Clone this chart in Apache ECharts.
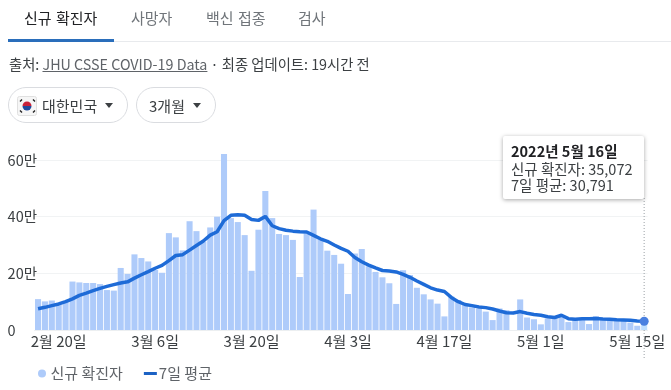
<!DOCTYPE html>
<html>
<head>
<meta charset="utf-8">
<script src="https://cdn.jsdelivr.net/npm/echarts@6/dist/echarts.min.js"></script>
<style>
  html, body { margin: 0; padding: 0; background: #fff; overflow: hidden; }
  body { width: 671px; height: 390px; position: relative; font-family: "Noto Sans CJK KR", sans-serif; color: #3c4043; }
  .abs { position: absolute; white-space: nowrap; line-height: 20px; }
  .tab { top: 8px; font-size: 15px; word-spacing: 1px; color: #70757a; }
  #rule { position: absolute; left: 8px; right: 0; top: 41px; height: 1px; background: #e8eaed; }
  #active { position: absolute; left: 8px; top: 39px; width: 106px; height: 3px; background: #2a6ebb; }
  .chip { position: absolute; top: 87px; height: 34px; border: 1px solid #dadce0; border-radius: 18px; }
  .caret { position: absolute; top: 103px; width: 0; height: 0; border-left: 4.5px solid transparent; border-right: 4.5px solid transparent; border-top: 5px solid #3c4043; }
  #chart { position: absolute; left: 0; top: 0; width: 671px; height: 390px; }
  a { color: #5f6368; text-decoration: underline; }
</style>
</head>
<body>
<div id="chart"></div>
<div class="abs tab" style="left:24px;color:#202124">신규 확진자</div>
<div class="abs tab" style="left:131px">사망자</div>
<div class="abs tab" style="left:206px">백신 접종</div>
<div class="abs tab" style="left:298px">검사</div>
<div id="rule"></div>
<div id="active"></div>
<div class="abs" style="left:9px;top:54px;font-size:14.3px">출처: <a>JHU CSSE COVID-19 Data</a> · 최종 업데이트: 19시간 전</div>
<div class="chip" style="left:8px;width:118px"></div>
<svg class="abs" style="left:17px;top:96px" width="20" height="20" viewBox="0 0 20 20">
  <rect x="0.5" y="0.5" width="19" height="19" rx="2" fill="#f6f6f6" stroke="#e0e0e0"/>
  <path d="M5.5 10a4.5 4.5 0 0 1 9 0z" fill="#c8213a"/>
  <path d="M5.5 10a4.5 4.5 0 0 0 9 0z" fill="#1f4a9c"/>
  <g stroke="#222" stroke-width="1.4">
    <path d="M3 5.5l2-2M16 3.5l2 2M3 14.5l2 2M16 16.5l2-2"/>
  </g>
</svg>
<div class="abs" style="left:42px;top:96px;font-size:15px">대한민국</div>
<div class="caret" style="left:105px"></div>
<div class="chip" style="left:136px;width:78px"></div>
<div class="abs" style="left:149px;top:96px;font-size:15px">3개월</div>
<div class="caret" style="left:193px"></div>
<script>
const categories = [
  '2월 17일','2월 18일','2월 19일','2월 20일','2월 21일','2월 22일','2월 23일','2월 24일','2월 25일','2월 26일','2월 27일','2월 28일',
  '3월 1일','3월 2일','3월 3일','3월 4일','3월 5일','3월 6일','3월 7일','3월 8일','3월 9일','3월 10일','3월 11일','3월 12일','3월 13일','3월 14일','3월 15일','3월 16일','3월 17일','3월 18일','3월 19일','3월 20일','3월 21일','3월 22일','3월 23일','3월 24일','3월 25일','3월 26일','3월 27일','3월 28일','3월 29일','3월 30일','3월 31일',
  '4월 1일','4월 2일','4월 3일','4월 4일','4월 5일','4월 6일','4월 7일','4월 8일','4월 9일','4월 10일','4월 11일','4월 12일','4월 13일','4월 14일','4월 15일','4월 16일','4월 17일','4월 18일','4월 19일','4월 20일','4월 21일','4월 22일','4월 23일','4월 24일','4월 25일','4월 26일','4월 27일','4월 28일','4월 29일','4월 30일',
  '5월 1일','5월 2일','5월 3일','5월 4일','5월 5일','5월 6일','5월 7일','5월 8일','5월 9일','5월 10일','5월 11일','5월 12일','5월 13일','5월 14일','5월 15일','5월 16일'
];
const newCases = [
  109000,101000,104000,95000,101000,171000,168000,166000,166000,162000,141000,139000,
  219000,198000,267000,254000,242000,212000,202000,342000,327000,281000,384000,349000,312000,362000,400000,621000,395000,381000,335000,209000,354000,491000,395000,339000,335000,318000,187000,341000,425000,324000,280000,
  265000,234000,127000,270000,286000,225000,205000,186000,165000,92000,211000,194000,149000,126000,108000,93000,48000,118000,106000,92000,80000,75000,65000,35000,76000,70000,null,108000,44000,38000,
  20000,41000,47000,53000,28000,35000,35000,21000,49000,38000,35000,35000,34000,26000,15000,35072
];
const weeklyAvg = [
  75000,80000,86000,92000,100000,110000,122000,130000,139000,147000,154000,160000,
  166000,170000,183000,195000,206000,218000,228000,245000,263000,266000,282000,298000,314000,335000,347000,386000,405000,407000,405000,390000,387000,401000,368000,358000,352000,349000,347000,346000,334000,322000,313000,
  300000,288000,278000,256000,241000,229000,219000,210000,208000,205000,196000,186000,173000,161000,149000,141000,136000,115000,100000,90000,86000,81000,79000,74000,67000,61000,60000,65000,59000,55000,
  52000,47000,44000,52000,40000,38000,40000,40000,41000,39000,38000,36000,35000,34000,32000,30791
];
const tipDate = '2022년 5월 16일';
const seriesNames = ['신규 확진자', '7일 평균'];

const chart = echarts.init(document.getElementById('chart'));
const last = categories.length - 1;

chart.setOption({
  animation: false,
  textStyle: { fontFamily: '"Noto Sans CJK KR", sans-serif' },
  grid: { left: 34.6, right: 23.4, top: 131.7, bottom: 60, outerBoundsMode: 'none' },
  legend: {
    left: 33, top: 361, itemGap: 21, itemWidth: 13, itemHeight: 8,
    textStyle: { color: '#5f6368', fontSize: 15, padding: [0, 0, 0, -3] },
    data: [
      { name: seriesNames[0], icon: 'circle' },
      { name: seriesNames[1], icon: 'path://M0 0h13v3h-13z', itemStyle: { color: '#1c62c4' } }
    ],
    selectedMode: false
  },
  tooltip: {
    trigger: 'axis', alwaysShowContent: true, transitionDuration: 0,
    axisPointer: { type: 'none' },
    position: [503, 136],
    padding: [7, 8, 6, 8],
    backgroundColor: '#fff', borderWidth: 0, borderRadius: 2,
    extraCssText: 'box-shadow:0 1px 4px rgba(0,0,0,0.35);line-height:16px;width:125px;white-space:nowrap;',
    textStyle: { color: '#3c4043', fontSize: 14.5 },
    formatter: () =>
      '<div style="font-weight:bold;color:#202124;margin-bottom:2px">' + tipDate + '</div>' +
      seriesNames[0] + ': ' + newCases[last].toLocaleString('en-US') + '<br>' +
      seriesNames[1] + ': ' + weeklyAvg[last].toLocaleString('en-US')
  },
  xAxis: {
    type: 'category', data: categories,
    axisTick: { show: false },
    axisLine: { lineStyle: { color: '#eceff1' } },
    axisLabel: {
      interval: (i) => i % 14 === 3,
      color: '#3c4043', fontSize: 15, margin: 4, hideOverlap: false
    }
  },
  yAxis: {
    type: 'value', min: 0, max: 700000, interval: 200000,
    axisLabel: {
      color: '#3c4043', fontSize: 14.5, margin: 27,
      align: 'left',
      showMaxLabel: false,
      formatter: (v) => (v === 0 ? '0' : v / 10000 + '만')
    },
    splitLine: { showMaxLine: false, lineStyle: { color: '#f1f3f4' } }
  },
  series: [
    {
      name: seriesNames[0], type: 'bar', data: newCases,
      barCategoryGap: '12%', itemStyle: { color: '#aecbfa' }
    },
    {
      name: seriesNames[1], type: 'line', data: weeklyAvg,
      showSymbol: false, symbol: 'none', z: 3,
      lineStyle: { color: '#1c62c4', width: 3.5 }, itemStyle: { color: '#1c62c4' },
      markPoint: {
        silent: true, symbol: 'circle', symbolSize: 9,
        itemStyle: { color: '#4a80e0' }, label: { show: false },
        data: [{ coord: [last, weeklyAvg[last]] }]
      }
    }
  ]
});

// 마지막 날짜의 점선 (툴팁 아래부터 축 아래까지)
const cursorX = chart.convertToPixel({ xAxisIndex: 0 }, last);
chart.setOption({
  graphic: [{
    type: 'line', z: 1,
    shape: { x1: cursorX, y1: 198, x2: cursorX, y2: 359 },
    style: { stroke: '#9aa0a6', lineWidth: 1, lineDash: [1, 2] }
  }]
});
chart.dispatchAction({ type: 'showTip', seriesIndex: 0, dataIndex: last });
</script>
</body>
</html>
